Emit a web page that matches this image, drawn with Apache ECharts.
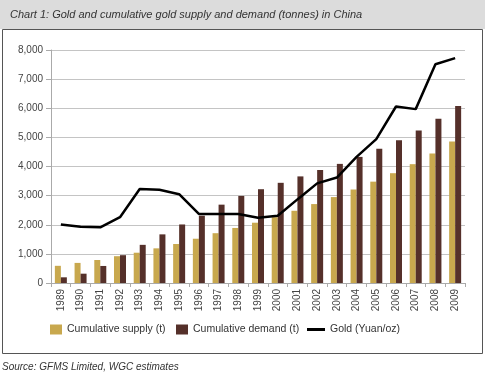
<!DOCTYPE html>
<html><head><meta charset="utf-8">
<script src="https://cdn.jsdelivr.net/npm/echarts@6/dist/echarts.min.js"></script>
<style>html,body{margin:0;padding:0;background:#fff}#c{width:485px;height:374px}</style>
</head><body><div id="c"></div>
<script>
var years = ['1989','1990','1991','1992','1993','1994','1995','1996','1997','1998','1999','2000','2001','2002','2003','2004','2005','2006','2007','2008','2009'];
var supply = [590,690,790,920,1040,1190,1340,1520,1710,1890,2070,2260,2480,2710,2950,3210,3480,3770,4080,4450,4860];
var demand = [195,320,585,955,1310,1670,2010,2310,2690,2990,3220,3440,3660,3880,4090,4330,4610,4900,5240,5640,6080];
var gold = [2010,1930,1910,2260,3230,3200,3050,2370,2370,2370,2240,2310,2870,3420,3620,4330,4940,6060,5970,7510,7720];
var yTicks = [0,1000,2000,3000,4000,5000,6000,7000,8000];

var chart = echarts.init(document.getElementById('c'), null, {renderer:'canvas'});
var ff = '"Liberation Sans", Arial, sans-serif';
var lt = {fontSize:10.5, color:'#333', fontFamily:ff};
chart.setOption({
  animation:false,
  textStyle:{fontFamily:ff},
  graphic:[
    {type:'rect', shape:{x:0,y:0,width:485,height:29}, style:{fill:'#dcdcdc'}, z:-10},
    {type:'rect', shape:{x:2.5,y:29.5,width:480,height:324}, style:{fill:'#fff',stroke:'#555',lineWidth:1}, z:-9},
    {type:'text', left:10, top:9, style:{text:'Chart 1: Gold and cumulative gold supply and demand (tonnes) in China', font:'italic 11px '+ff, fill:'#333'}},
    {type:'text', left:2, top:362, style:{text:'Source: GFMS Limited, WGC estimates', font:'italic 10px '+ff, fill:'#333'}}
  ],
  grid:{left:51, right:20, top:50, bottom:91, containLabel:false},
  legend:[
    {left:50, top:324, itemWidth:12, itemHeight:10, icon:'rect', data:['Cumulative supply (t)'], textStyle:lt, padding:0},
    {left:176, top:324, itemWidth:12, itemHeight:10, icon:'rect', data:['Cumulative demand (t)'], textStyle:lt, padding:0},
    {left:307, top:324, itemWidth:18, itemHeight:3, icon:'rect', data:['Gold (Yuan/oz)'], textStyle:lt, padding:0}
  ],
  xAxis:{type:'category', data:years, boundaryGap:true,
    axisLine:{lineStyle:{color:'#aaa'}},
    axisTick:{show:true, alignWithLabel:false, length:4, lineStyle:{color:'#aaa'}},
    axisLabel:{rotate:90, fontSize:10, color:'#444', margin:6, interval:0}},
  yAxis:{type:'value', min:0, max:8000, interval:1000,
    axisLine:{show:true, lineStyle:{color:'#aaa'}},
    axisTick:{show:true, length:5, lineStyle:{color:'#aaa'}},
    splitLine:{lineStyle:{color:'#c4c4c4'}},
    axisLabel:{fontSize:10, color:'#444', margin:8, formatter:function(v){return v.toLocaleString('en-US');}}},
  series:[
    {name:'Cumulative supply (t)', type:'bar', data:supply, barWidth:6, barGap:'0%', itemStyle:{color:'#c8a84e'}},
    {name:'Cumulative demand (t)', type:'bar', data:demand, barWidth:6, barGap:'0%', itemStyle:{color:'#55302a'}},
    {name:'Gold (Yuan/oz)', type:'line', data:gold, showSymbol:false, symbol:'none', lineStyle:{color:'#000', width:2.5}, itemStyle:{color:'#000'}, z:5}
  ]
});
</script></body></html>
